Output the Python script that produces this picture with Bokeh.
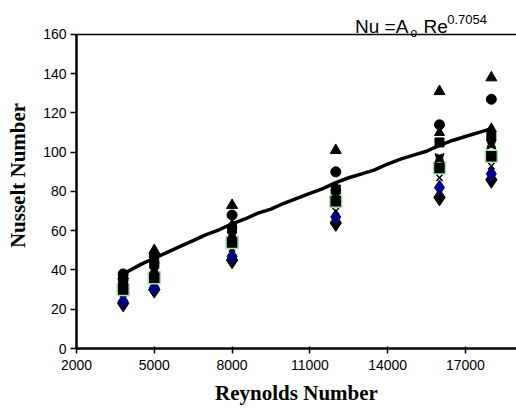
from bokeh.plotting import figure
from bokeh.models import Range1d, FixedTicker, Label, Span
from bokeh.embed import file_html
from bokeh.resources import INLINE

# Reynolds numbers of the measurement clusters
re_vals = [3800, 5000, 8000, 12000, 16000, 18000]

# Nusselt numbers per series
nu_triangle = [37, 50, 73, 101, 131, 138]
nu_circle = [38, 47, 68, 90, 114, 127]
nu_triangle2 = [36, 45, 63, 82, 110, 112]
nu_square_dark = [35, 43, 61, 81, 105, 108]
nu_flag = [33, 40, 58, 78, 97, 104]
nu_square_green = [30, 36, 54, 75, 92, 98]
nu_cross = [28, 34, 51, 70, 87, 93]
nu_diamond_blue = [24, 31, 47, 67, 82, 89]
nu_diamond_black = [23, 30, 45, 64, 77, 86]

# Correlation line Nu = Ao Re^0.7054
fit_re = [3800, 4500, 5000, 5500, 6000, 6500, 7000, 7500, 8000, 8500, 9000, 9500,
          10000, 10500, 11000, 11500, 12000, 12500, 13000, 13500, 14000, 14500,
          15000, 15500, 16000, 16500, 17000, 17500, 18000]
fit_nu = [38, 43, 46, 49, 52, 55, 58, 60.5, 63.5, 66, 69, 71, 74, 76.5, 79, 81.5,
          84.5, 87, 89, 91, 94, 96.5, 98.5, 100.5, 103.5, 106, 108, 110, 112]

x_ticks = [2000, 5000, 8000, 11000, 14000, 17000]
y_ticks = [0, 20, 40, 60, 80, 100, 120, 140, 160]
y_top = 160

W, H = 516, 410

p = figure(width=W, height=H, output_backend="svg", toolbar_location=None,
           x_range=Range1d(2000, 18970), y_range=Range1d(0, 176.3),
           min_border_left=76, min_border_top=2, min_border_bottom=62,
           min_border_right=0)
p.grid.visible = False
p.background_fill_color = "white"
p.border_fill_color = "white"
p.outline_line_color = None

for ax in (p.xaxis[0], p.yaxis[0]):
    ax.axis_line_width = 2.5
    ax.axis_line_color = "black"
    ax.major_tick_line_color = "black"
    ax.major_tick_line_width = 1.5
    ax.minor_tick_line_color = None
    ax.major_label_text_font = "Liberation Sans"
    ax.major_label_text_font_size = "14px"
    ax.major_label_text_color = "black"
    ax.axis_label_text_font = "Liberation Serif"
    ax.axis_label_text_font_style = "bold"
    ax.axis_label_text_font_size = "21px"
    ax.axis_label_text_color = "black"

p.yaxis.bounds = (0, y_top)
p.xaxis.ticker = FixedTicker(ticks=x_ticks)
p.yaxis.ticker = FixedTicker(ticks=y_ticks)
p.xaxis.major_tick_in = 2
p.xaxis.major_tick_out = 5
p.yaxis.major_tick_in = 0
p.yaxis.major_tick_out = 6
p.xaxis.major_label_standoff = 6
p.yaxis.major_label_standoff = 4
p.xaxis.axis_label = "Reynolds Number"
p.yaxis.axis_label = "Nusselt Number"
p.xaxis.axis_label_standoff = 8
p.yaxis.axis_label_standoff = 10

# top border of the plot area
p.add_layout(Span(location=y_top, dimension="width", line_color="black", line_width=1.5))

# correlation line
p.line(fit_re, fit_nu, line_color="black", line_width=3.5)

# data series
p.scatter(re_vals, nu_diamond_black, marker="diamond", size=17, fill_color="black", line_color="black")
p.scatter(re_vals, nu_diamond_blue, marker="diamond", size=15, fill_color="#000080", line_color="#000080")
p.scatter(re_vals, nu_cross, marker="x", size=9, line_color="black", line_width=1.5)
p.scatter(re_vals, nu_square_green, marker="square", size=12, fill_color="black", line_color="#A8E0A8", line_width=1.5)
p.scatter(re_vals, nu_flag, marker="square_pin", size=9, fill_color="black", line_color="black")
p.scatter(re_vals, nu_square_dark, marker="square", size=9, fill_color="black", line_color="black")
p.scatter(re_vals, nu_triangle2, marker="triangle", size=10, fill_color="black", line_color="black")
p.scatter(re_vals, nu_circle, marker="circle", size=10, fill_color="black", line_color="black")
p.scatter(re_vals, nu_triangle, marker="triangle", size=11, fill_color="black", line_color="black")

# equation label above the plot area
def lab(x, y, text, size, align="left"):
    p.add_layout(Label(x=x, y=y, text=text, text_align=align, text_baseline="alphabetic",
                       text_font="Liberation Sans", text_font_size=size, text_color="black"))

lab(14800, 164.0, "Nu =A", "19px", "right")
lab(14880, 161.0, "o", "12px")
lab(15380, 164.0, "Re", "19px")
lab(16300, 167.5, "0.7054", "13px")

open("out.html", "w").write(file_html(p, INLINE))
